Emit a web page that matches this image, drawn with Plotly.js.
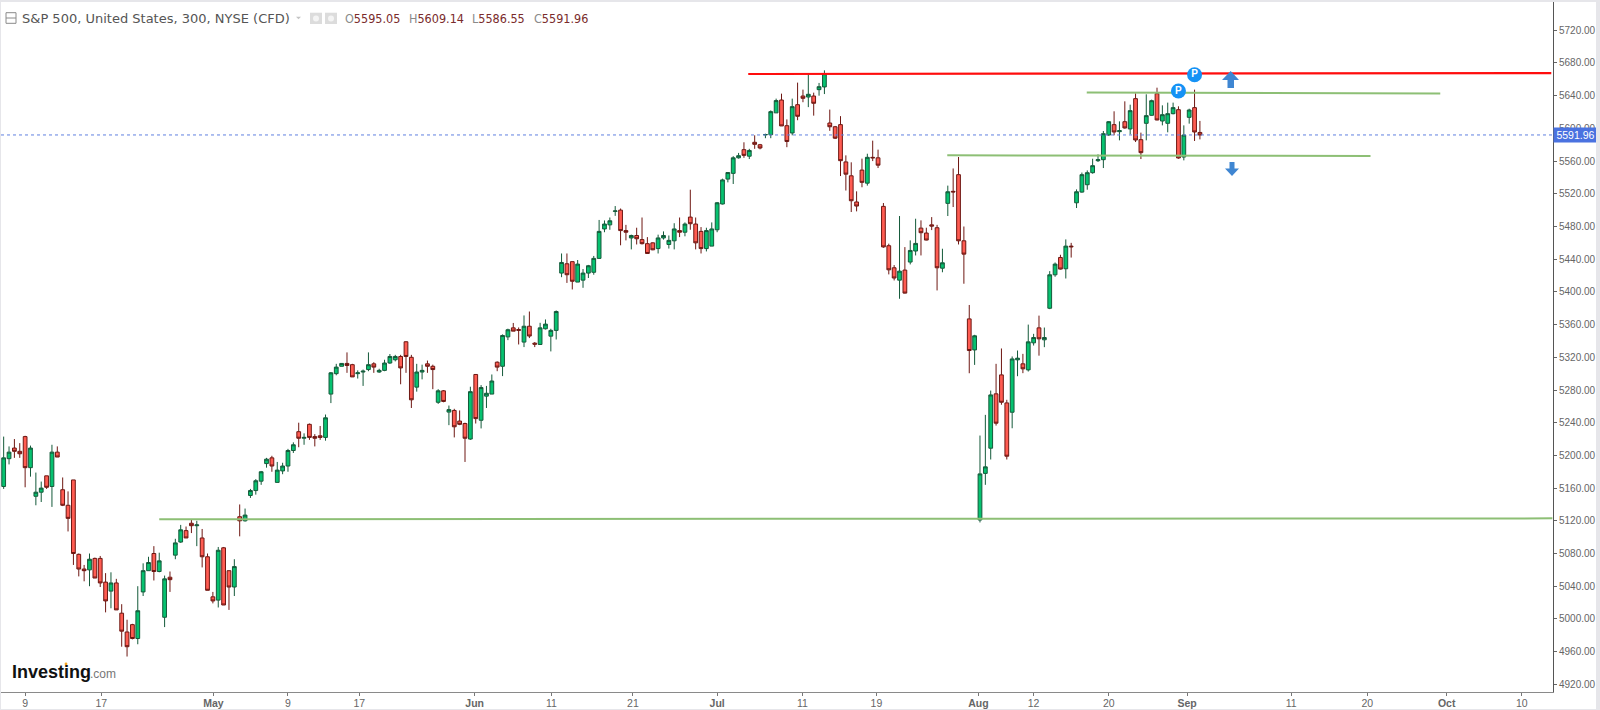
<!DOCTYPE html>
<html>
<head>
<meta charset="utf-8">
<script src="https://cdn.plot.ly/plotly-3.0.1.min.js"></script>
<style>
html,body{margin:0;padding:0;width:1600px;height:710px;overflow:hidden;background:#e6e6ea}
#chart{position:absolute;left:1px;top:2px;width:1595px;height:707px;background:#fff}
</style>
</head>
<body>
<div id="chart"></div>
<script>
// ---------- Data ----------
var opens = [
5162,5196,5209,5205,5223,5185,5150,5155,5175,5162,
5204,5158,5139,5170,5079,5061,5060,5074,5074,5045,
5034,5044,5007,4984,4993,4976,5033,5059,5080,5058,
5002,5051,5078,5094,5108,5117,5114,5099,5076,5027,
5023,5087,5059,5039,5125,5120,5151,5157,5168.5,5190,
5197,5167,5181,5187,5206,5229,5221,5238,5223,5224,
5222,5275,5300,5309,5312.5,5311,5300,5302,5305,5312,
5302,5304,5313,5317,5321,5339,5320,5283.5,5302,5312,
5309,5265,5279,5253,5255,5242,5239,5220,5299,5243,
5272.5,5275,5314,5309,5345,5356,5354,5338.6,5358,5337.3,
5335.7,5354.9,5345.9,5352.9,5423,5434.4,5437,5412,5414.4,5423,
5424,5441,5477,5482,5498.5,5500,5475,5466,5469,5464,
5459,5460,5453,5466,5458,5462.5,5475,5473,5491.5,5483,
5474,5453,5456,5476,5507.5,5538,5545,5564,5574,5566,
5583,5580,5592,5592.3,5619,5634.7,5603.3,5594.4,5629,5639.6,
5638.4,5639.6,5647.4,5650.7,5606.6,5602,5604.6,5559,5542,5510,
5549,5533,5564.6,5564,5504.6,5456.5,5429.5,5414.4,5426.7,5436.5,
5450,5478,5472,5482,5478.5,5429,5508.3,5523,5543.4,5462.5,
5367,5329,5121,5178,5208.8,5275.3,5298.5,5264.2,5252.8,5316.9,
5312,5304.6,5337.7,5356,5341.4,5380,5420.9,5442.1,5428.3,5456,
5509,5522.1,5531.1,5545.8,5560.5,5561.7,5591.9,5604.6,5596,5608.2,
5599.3,5636.4,5586.2,5606.2,5616,5642.5,5609,5606.2,5618,5622.9,
5565,5613.5,5625.4,5595.05];
var highs = [
5223,5211,5220,5215,5224,5212,5179,5168,5175,5213,
5211,5173,5156,5170,5080,5066,5080,5075,5077,5056,
5057,5049,5018,4999,4994,5040,5068,5076,5089,5081,
5053,5058,5098,5115,5113,5122,5120,5110,5080,5033,
5088,5088,5059,5073,5140,5135,5159,5171,5181,5197,
5199.5,5192,5191,5208,5216,5240,5227,5239,5226,5236,
5250,5302,5312,5313,5326,5312,5304,5305,5326,5314,
5306,5317,5324,5323,5323,5339.4,5323,5312,5311,5316,
5311,5281,5280,5261,5257,5255,5240,5284,5299,5286,
5285,5299,5315,5348,5355,5362,5356.5,5371.2,5376,5338.6,
5362.2,5366.3,5354.9,5377.3,5447,5447,5437,5439,5428,5433,
5444,5488,5487.4,5491,5505,5502,5482,5470,5478.5,5491,
5467,5460.5,5470,5474,5469,5484,5491,5485,5525,5491,
5479.3,5478.5,5485,5510,5538.5,5546,5566,5570,5583,5575,
5591.5,5581,5593.5,5622,5636.4,5642.5,5611,5636.4,5656,5647.4,
5667,5643.7,5655.6,5671,5623,5603,5615,5567,5558.5,5523,
5563,5569,5585,5574,5508.7,5459,5432.8,5492.8,5454.8,5463,
5489.5,5487.5,5478.5,5491.5,5482,5452.8,5530,5551,5565,5480,
5384,5347.5,5224.3,5249.6,5279.3,5312,5330.8,5268,5321,5328.3,
5324.2,5360,5348.7,5371,5356.4,5425.4,5436,5445.4,5464.2,5460,
5525.4,5546,5548.6,5562.9,5568.2,5596.8,5609,5620.9,5608.6,5633.1,
5629,5642.9,5594.8,5641.7,5635.2,5649.8,5628.2,5631.5,5631.5,5627,
5603.7,5624.1,5647.4,5609.14];
var lows = [
5159,5189,5197,5197,5161,5174,5139,5143,5159,5137,
5198,5138,5107,5066,5052,5046,5040,5050,5039,5008,
5013,5011,4966,4954,4975,4969,5028,5059,5047,5057,
4990,5033,5073,5093,5099,5105,5089,5063,5035,5019,
5014,5017,5011,5028,5101,5119,5148,5152,5164,5185,
5180,5167,5177,5180,5203,5210,5213,5219,5211,5219,
5218,5264,5298,5309,5301,5296,5294,5285,5303,5301,
5301,5303,5312,5315,5287,5301,5258,5278,5293,5301,
5281,5263,5265,5237,5222,5237,5192,5219,5239,5233,
5258,5275,5303,5297,5341,5352,5335.7,5332.5,5343.5,5332.5,
5335.7,5354,5327.2,5341.8,5418,5411,5403,5412,5405,5417,
5421,5441,5473,5476,5493,5457,5463,5452,5458,5458,
5447,5451,5447,5464,5453,5452,5467,5468,5476,5452,
5447,5449.5,5456,5473,5507,5534,5532,5563,5564,5562.5,
5575,5574.4,5588,5588,5619,5603,5577,5591.5,5610,5632,
5626,5615.6,5640,5642,5597,5587,5541.7,5524,5497.7,5498.5,
5528,5530,5560,5551.5,5454,5421.4,5414,5391.6,5398,5433.6,
5444.6,5444.6,5463,5475.6,5401.8,5424,5492.8,5503.8,5458,5410,
5300.5,5310.7,5118,5164,5195,5236.5,5262,5195,5233.2,5296.9,
5300.6,5302.6,5334.4,5322,5332.4,5378.9,5418.5,5427.4,5416.4,5442,
5502.6,5521.3,5525,5544.6,5558.9,5551.5,5591,5591.5,5585.4,5599.7,
5592.7,5583.3,5562.5,5585.4,5615.6,5609.9,5603.7,5595.2,5617.2,5562.9,
5560.9,5605.8,5584.6,5586.55];
var closes = [
5197,5204,5205,5202,5185,5209,5155,5160,5161,5204,
5198,5139,5123,5080,5061,5059,5073,5050,5044,5022,
5044,5011,4985,4966,4976,5010,5059,5069,5058,5071,
5049,5048,5093,5109,5099,5114,5115,5076,5035,5022,
5084,5017,5039,5064,5120,5127,5157,5169,5180,5195.4,
5187,5182,5187,5206,5213,5221,5222,5222,5221,5222,
5246,5301,5308,5312.5,5310,5296,5301,5303,5311,5308,
5304,5313,5321,5321,5307,5321,5268,5302,5304,5309,
5305,5279,5266,5256,5235,5238,5221,5278,5245,5283,
5276,5291,5308,5346.7,5353.7,5352,5353,5358,5346,5336.1,
5356,5360.6,5352.9,5376,5436,5421,5413,5434,5423,5432,
5441,5474,5483,5487,5499,5475,5473,5469,5465,5459,
5447,5451.5,5466,5469,5463,5477,5473,5483,5483.4,5460,
5453,5475,5477,5509,5537,5546,5564,5566.6,5567,5573,
5580.5,5576,5592.5,5620.5,5634,5603,5584,5626.6,5614.8,5636.8,
5641.7,5630.7,5651,5667,5602,5588,5560.5,5544,5511.5,5505,
5534,5564.6,5564,5555,5455,5427,5417,5425.4,5398.5,5450.7,
5459.3,5472.4,5463.4,5480.5,5429.5,5435.6,5522.5,5522.3,5462.5,5446.2,
5328.3,5346.3,5177.4,5186,5274,5239.4,5265,5199,5318,5318.9,
5305.9,5338.9,5344.2,5342.6,5344.2,5420.9,5434,5427.9,5456,5455.2,
5522.5,5543.4,5545.8,5554.4,5561.7,5593.5,5608.2,5595.6,5597.2,5600.5,
5621.7,5585.8,5570.3,5615.6,5633.9,5610.3,5616.8,5618,5625.4,5563.8,
5591.9,5622.5,5595.6,5591.96];

var xTickPos = [5,19.2,40.1,54,67.3,88.8,103.1,118.3,134,149.9,163.7,182.7,193,207,221.6,241,255.2,270,284];
var xTickLabels = ['9','17','<b>May</b>','9','17','<b>Jun</b>','11','21','<b>Jul</b>','11','19','<b>Aug</b>','12','20','<b>Sep</b>','11','20','<b>Oct</b>','10'];

var resistanceX = [139.8,289.5],  resistanceY = [5666.5,5667.7];
var upperX = [202.9,268.8],       upperY = [5643.8,5642.7];
var middleX = [176.9,255.8],      middleY = [5567,5566.3];
var supportX = [30,289.7],        supportY = [5121.9,5123];
var pivotX = [220,223],           pivotY = [5645.7,5665.7];

var lastPrice = 5591.96;
var headerTitle = 'S&P 500, United States, 300, NYSE (CFD)';
var ohlcLetters = ['O','H','L','C'];
var ohlcValues = ['5595.05','5609.14','5586.55','5591.96'];
var ohlcLeft = [344,408,471,533];

// ---------- Frame geometry ----------
var W = 1595, H = 707;
var L = 1, T = 2, PW = 1552, PB = 692;
function px(x){ return (x - L) / PW; }
function py(y){ return (PB - y) / (PB - T); }
function ppath(points){
  return 'M' + points.map(function(p){ return px(p[0]) + ',' + py(p[1]); }).join(' L') + ' Z';
}

var idx = opens.map(function(_, i){ return i + 1; });

var GREEN_LINE = '#8dbf75', RED_LINE = '#ff0d0d';

function lineTrace(xs, ys, color, width){
  return {type:'scatter', mode:'lines', x:xs, y:ys, line:{color:color, width:width}, hoverinfo:'skip', showlegend:false};
}

var traces = [
  {type:'candlestick', x:idx, open:opens, high:highs, low:lows, close:closes,
   increasing:{line:{color:'#145a3a', width:1}, fillcolor:'#06c270'},
   decreasing:{line:{color:'#6e1712', width:1}, fillcolor:'#ff5c52'},
   whiskerwidth:0, showlegend:false, hoverinfo:'skip'},
  lineTrace(supportX, supportY, GREEN_LINE, 2),
  lineTrace(middleX, middleY, GREEN_LINE, 2),
  lineTrace(upperX, upperY, GREEN_LINE, 2),
  lineTrace(resistanceX, resistanceY, RED_LINE, 2.2),
  {type:'scatter', mode:'markers+text', x:pivotX, y:pivotY, text:['P','P'],
   textposition:'middle center', textfont:{family:'Liberation Sans, Arial, sans-serif', size:10, color:'#ffffff', weight:700},
   marker:{size:15, color:'#1592f5', line:{width:0}}, hoverinfo:'skip', showlegend:false}
];

var shapes = [
  // last price dotted line
  {type:'line', xref:'paper', x0:0, x1:1, yref:'y', y0:lastPrice, y1:lastPrice, line:{color:'#6080e0', width:1, dash:'dot'}, layer:'above'},
  // collapse box
  {type:'rect', xref:'paper', yref:'paper', x0:px(6), x1:px(16), y0:py(23.3), y1:py(12.7), line:{color:'#8a8a8a', width:1}, fillcolor:'rgba(0,0,0,0)'},
  {type:'line', xref:'paper', yref:'paper', x0:px(6), x1:px(16), y0:py(18), y1:py(18), line:{color:'#8a8a8a', width:1}},
  // dropdown caret
  {type:'path', xref:'paper', yref:'paper', path:ppath([[296,16.7],[301,16.7],[298.5,19.3]]), fillcolor:'#c4c4c4', line:{width:0}},
  // status buttons
  {type:'rect', xref:'paper', yref:'paper', x0:px(310), x1:px(322), y0:py(24), y1:py(12.7), fillcolor:'#dcdcdc', line:{width:0}},
  {type:'rect', xref:'paper', yref:'paper', x0:px(325), x1:px(337), y0:py(24), y1:py(12.7), fillcolor:'#dcdcdc', line:{width:0}},
  {type:'circle', xref:'paper', yref:'paper', x0:px(313), x1:px(319), y0:py(21.5), y1:py(15.5), fillcolor:'#f4f4f4', line:{width:0}},
  {type:'circle', xref:'paper', yref:'paper', x0:px(328), x1:px(334), y0:py(21.5), y1:py(15.5), fillcolor:'#f4f4f4', line:{width:0}},
  // up arrow
  {type:'path', xref:'paper', yref:'paper', fillcolor:'#3f86d2', line:{width:0},
   path:ppath([[1230.7,71],[1239,80],[1234,80],[1234,88],[1227.5,88],[1227.5,80],[1222,80]])},
  // down arrow
  {type:'path', xref:'paper', yref:'paper', fillcolor:'#3f86d2', line:{width:0},
   path:ppath([[1232,176],[1225,168.5],[1229.5,168.5],[1229.5,162],[1234.5,162],[1234.5,168.5],[1239,168.5]])},
  // logo dot
  {type:'circle', xref:'paper', yref:'paper', x0:px(64.6), x1:px(67.4), y0:py(665.4), y1:py(662.6), fillcolor:'#f5a623', line:{width:0}}
];

function note(text, xp, yp, size, color, family, anchor){
  return {xref:'paper', yref:'paper', x:px(xp), y:py(yp), text:text, showarrow:false,
          xanchor:anchor||'left', yanchor:'middle', align:'left', borderpad:0,
          font:{family:family||'Liberation Sans, Arial, sans-serif', size:size, color:color}};
}

var annotations = [
  note(headerTitle, 21, 18.3, 13, '#555555', 'DejaVu Sans, sans-serif'),
  {xref:'paper', x:1, xanchor:'left', yref:'y', y:lastPrice, yanchor:'middle', text:lastPrice.toFixed(2), showarrow:false,
   width:43, height:14, bgcolor:'#4a72e0', borderpad:0, align:'center',
   font:{family:'Liberation Sans, Arial, sans-serif', size:10.5, color:'#ffffff'}},
  note('<b>Investing</b>', 11, 672, 18, '#111111', 'Liberation Sans, Arial, sans-serif'),
  note('.com', 89, 674, 12, '#777777', 'Liberation Sans, Arial, sans-serif')
];
ohlcLetters.forEach(function(letter, i){
  annotations.push(note('<span style="color:#8a8a8a">' + letter + '</span><span style="color:#7a2b2b">' + ohlcValues[i] + '</span>',
    ohlcLeft[i], 18.3, 12.5, '#7a2b2b', 'DejaVu Sans Condensed, DejaVu Sans, sans-serif'));
});

var layout = {
  width:W, height:H,
  paper_bgcolor:'#ffffff', plot_bgcolor:'#ffffff',
  margin:{l:0, r:43, t:0, b:17, pad:0},
  showlegend:false,
  boxgap:0,
  xaxis:{type:'linear', range:[0.502,289.82], rangeslider:{visible:false}, showgrid:false, zeroline:false,
         tickmode:'array', tickvals:xTickPos, ticktext:xTickLabels, ticks:'outside', ticklen:3, tickwidth:1, tickcolor:'#777777',
         ticklabelstandoff:-2,
         showline:true, linecolor:'#8a8a8a', linewidth:1, tickfont:{family:'Liberation Sans, Arial, sans-serif', size:10.5, color:'#666666'}, fixedrange:true},
  yaxis:{side:'right', range:[4910.6,5754.6], tick0:4920, dtick:40, tickformat:'.2f', showgrid:false, zeroline:false,
         ticks:'outside', ticklen:3, tickwidth:1, tickcolor:'#666666', showline:true, linecolor:'#555555', linewidth:1,
         tickfont:{family:'Liberation Sans, Arial, sans-serif', size:10, color:'#666666'}, fixedrange:true},
  shapes:shapes, annotations:annotations, hovermode:false
};

Plotly.newPlot('chart', traces, layout, {displayModeBar:false, staticPlot:true});
</script>
</body>
</html>
